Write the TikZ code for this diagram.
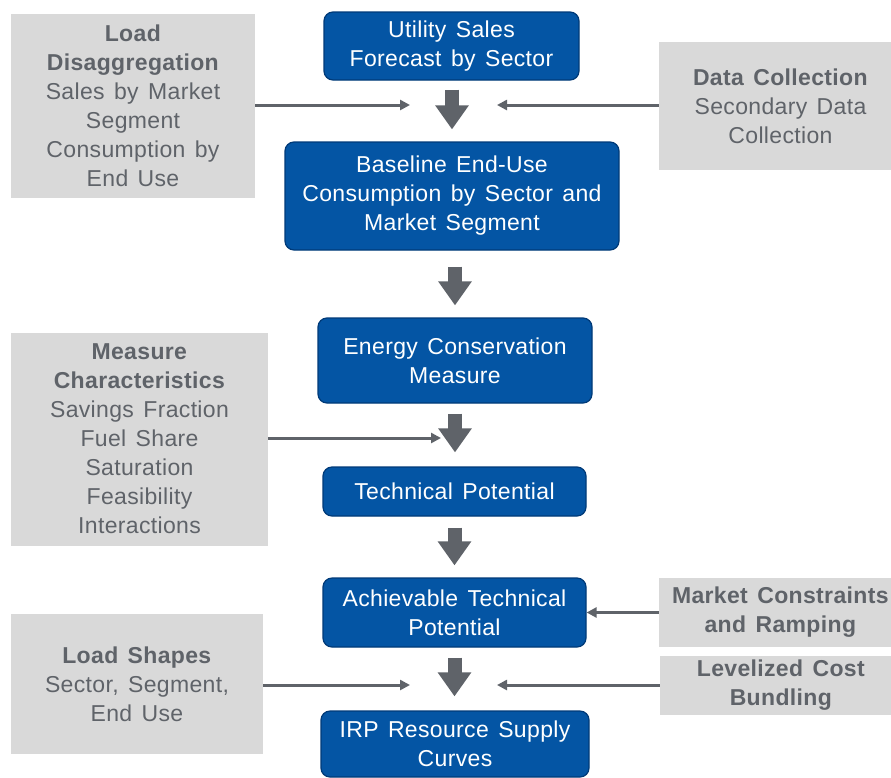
\documentclass[tikz,border=0pt]{standalone}
\usepackage{fontspec}
\setmainfont[LetterSpace=1.5,WordSpace=1.4]{Liberation Sans}
\usetikzlibrary{arrows.meta}
\definecolor{bluefill}{RGB}{4,85,164}
\definecolor{blueline}{RGB}{0,58,120}
\definecolor{grayfill}{RGB}{217,217,217}
\definecolor{graytext}{RGB}{95,99,105}
\definecolor{arrowgray}{RGB}{95,99,105}
\tikzset{
  bluebox/.style={draw=blueline, line width=1.2pt, fill=bluefill, rounded corners=9pt,
    text=white, align=center, inner sep=1pt,
    font=\fontsize{23}{29}\selectfont},
  graybox/.style={fill=grayfill, text=graytext, align=center, inner sep=1pt,
    font=\fontsize{23}{29}\selectfont},
  blockarrow/.style={draw=arrowgray, line width=14pt,
    -{Triangle[width=32pt,length=24pt]}},
  thinarrow/.style={draw=arrowgray, line width=3pt,
    -{Triangle[width=10pt,length=10pt]}},
}
\begin{document}
\begin{tikzpicture}[x=1pt,y=-1pt]
\useasboundingbox (0,0) rectangle (891,777);
\fill[white] (0,0) rectangle (891,777);

% blue process boxes
\node[bluebox, minimum width=255pt, minimum height=68pt] (u) at (451.5,46) {Utility Sales\\Forecast by Sector};
\node[bluebox, minimum width=334pt, minimum height=108pt] (b) at (452,196) {Baseline End-Use\\Consumption by Sector and\\Market Segment};
\node[bluebox, minimum width=274pt, minimum height=85pt] (e) at (455,360.5) {Energy Conservation\\Measure};
\node[bluebox, minimum width=263pt, minimum height=49pt] (t) at (454.5,491.5) {Technical Potential};
\node[bluebox, minimum width=263pt, minimum height=69pt] (a) at (454.5,612.5) {Achievable Technical\\Potential};
\node[bluebox, minimum width=268pt, minimum height=66pt] (i) at (455,744) {IRP Resource Supply\\Curves};

% gray input boxes
\node[graybox, minimum width=244pt, minimum height=184pt] (ld) at (133,106) {\textbf{Load}\\\textbf{Disaggregation}\\Sales by Market\\Segment\\Consumption by\\End Use};
\node[graybox, minimum width=243pt, minimum height=128pt] (dc) at (780.5,106) {\textbf{Data Collection}\\Secondary Data\\Collection};
\node[graybox, minimum width=257pt, minimum height=213pt] (mc) at (139.5,439) {\textbf{Measure}\\\textbf{Characteristics}\\Savings Fraction\\Fuel Share\\Saturation\\Feasibility\\Interactions};
\node[graybox, minimum width=243pt, minimum height=69pt] (mr) at (780.5,612.5) {\textbf{Market Constraints}\\\textbf{and Ramping}};
\node[graybox, minimum width=242pt, minimum height=59pt] (lc) at (781,685) {\textbf{Levelized Cost}\\\textbf{Bundling}};
\node[graybox, minimum width=252pt, minimum height=140pt] (ls) at (137,684) {\textbf{Load Shapes}\\Sector, Segment,\\End Use};

% block arrows
\draw[blockarrow, shorten <=9pt, shorten >=12pt] (u.south -| 452,0) -- (b.north);
\draw[blockarrow, shorten <=16pt, shorten >=12pt] (b.south -| e.north) -- (e.north);
\draw[blockarrow, shorten <=10pt, shorten >=14pt] (e.south) -- (e.south |- t.north);
\draw[blockarrow, shorten <=11pt, shorten >=12pt] (t.south) -- (a.north);
\draw[blockarrow, shorten <=10pt, shorten >=14pt] (a.south) -- (a.south |- i.north);

% free ends of thin arrows
\coordinate (c1) at (410,105);
\coordinate (c2) at (497,105);
\coordinate (c3) at (441,438);
\coordinate (c5) at (410,685);
\coordinate (c6) at (497,685);

% thin arrows
\draw[thinarrow] (ld.east |- c1) -- (c1);
\draw[thinarrow] (dc.west |- c2) -- (c2);
\draw[thinarrow] (mc.east |- c3) -- (c3);
\draw[thinarrow] (mr.west) -- (a.east);
\draw[thinarrow] (ls.east |- c5) -- (c5);
\draw[thinarrow] (lc.west |- c6) -- (c6);
\end{tikzpicture}
\end{document}
